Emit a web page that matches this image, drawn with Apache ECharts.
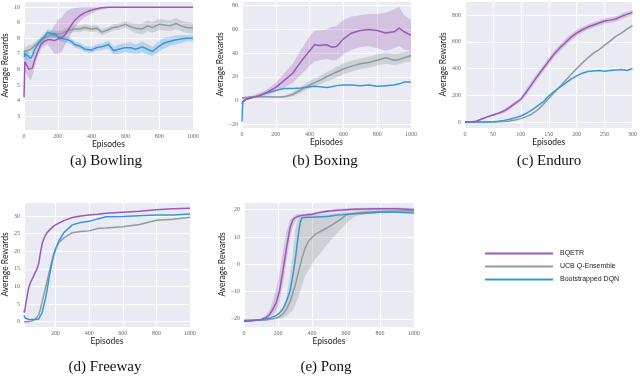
<!DOCTYPE html>
<html>
<head>
<meta charset="utf-8">
<script src="https://cdn.jsdelivr.net/npm/echarts@6/dist/echarts.min.js"></script>
<style>
  html, body { margin: 0; padding: 0; background: #fff; }
  #main { width: 640px; height: 378px; }
</style>
</head>
<body>
<div id="main"></div>
<script>
// ---- (a) Bowling ----
var bowlingEp = [0, 5, 10, 20, 30, 40, 50, 60, 80, 100, 120, 140, 160, 180, 200, 220, 240, 260, 280, 300, 330, 360, 400, 430, 460, 500, 530, 560, 600, 630, 660, 700, 730, 760, 800, 830, 860, 900, 930, 960, 1000];
var bowlingBQETR = [4.2, 6.5, 6.4, 6.2, 6.0, 5.9, 6.1, 6.5, 7.1, 7.6, 7.8, 7.9, 7.9, 7.85, 7.95, 8.0, 8.2, 8.5, 8.85, 9.15, 9.45, 9.65, 9.82, 9.9, 9.96, 10, 10, 10, 10, 10, 10, 10, 10, 10, 10, 10, 10, 10, 10, 10, 10];
var bowlingBQETRLo = [3.4, 5.9, 5.8, 5.6, 5.4, 5.3, 5.6, 6.0, 6.8, 7.3, 7.5, 7.6, 7.3, 7.0, 7.0, 7.1, 7.5, 7.9, 8.3, 8.7, 9.1, 9.35, 9.6, 9.75, 9.85, 9.95, 9.98, 9.98, 9.98, 9.98, 9.98, 9.98, 9.98, 9.98, 9.98, 9.98, 9.98, 9.98, 9.98, 9.98, 9.98];
var bowlingBQETRHi = [5.0, 7.2, 7.0, 6.9, 6.6, 6.5, 6.6, 7.0, 7.4, 7.9, 8.1, 8.3, 8.5, 8.8, 9.2, 9.3, 9.6, 9.8, 9.9, 9.95, 10, 10.02, 10.02, 10.02, 10.02, 10.02, 10.02, 10.02, 10.02, 10.02, 10.02, 10.02, 10.02, 10.02, 10.02, 10.02, 10.02, 10.02, 10.02, 10.02, 10.02];
var bowlingUCB = [7.0, 7.2, 7.1, 7.2, 7.3, 7.3, 7.4, 7.5, 7.7, 7.8, 8.0, 8.1, 8.2, 8.2, 8.3, 8.3, 8.4, 8.5, 8.55, 8.6, 8.6, 8.7, 8.6, 8.65, 8.4, 8.55, 8.7, 8.75, 8.9, 8.75, 8.65, 8.6, 8.8, 8.7, 8.9, 8.85, 8.8, 8.95, 8.8, 8.7, 8.65];
var bowlingUCBLo = [5.5, 6.8, 6.8, 6.9, 7.0, 7.05, 7.15, 7.3, 7.5, 7.6, 7.8, 7.9, 8.0, 8.0, 8.1, 8.1, 8.2, 8.3, 8.35, 8.4, 8.4, 8.5, 8.4, 8.45, 8.2, 8.35, 8.5, 8.55, 8.7, 8.5, 8.35, 8.25, 8.45, 8.35, 8.55, 8.5, 8.45, 8.6, 8.45, 8.35, 8.3];
var bowlingUCBHi = [8.6, 7.6, 7.4, 7.5, 7.6, 7.55, 7.65, 7.7, 7.9, 8.0, 8.2, 8.3, 8.4, 8.4, 8.5, 8.5, 8.6, 8.7, 8.75, 8.8, 8.8, 8.9, 8.8, 8.85, 8.6, 8.75, 8.9, 8.95, 9.1, 9.0, 8.95, 8.95, 9.15, 9.05, 9.25, 9.2, 9.15, 9.3, 9.15, 9.05, 9.0];
var bowlingBDQN = [6.8, 7.0, 6.9, 6.9, 6.8, 6.7, 6.9, 7.2, 7.6, 7.9, 8.1, 8.4, 8.3, 8.3, 8.1, 8.0, 7.95, 7.9, 7.8, 7.6, 7.5, 7.3, 7.25, 7.4, 7.45, 7.6, 7.2, 7.3, 7.4, 7.4, 7.3, 7.45, 7.3, 7.15, 7.5, 7.7, 7.8, 7.9, 7.95, 8.0, 8.0];
var bowlingBDQNLo = [6.4, 6.7, 6.6, 6.6, 6.55, 6.45, 6.65, 6.95, 7.4, 7.7, 7.9, 8.2, 8.1, 8.1, 7.9, 7.8, 7.75, 7.7, 7.6, 7.4, 7.3, 7.1, 7.05, 7.2, 7.25, 7.35, 6.95, 7.0, 7.1, 7.05, 7.0, 7.1, 6.95, 6.85, 7.15, 7.35, 7.5, 7.6, 7.7, 7.8, 7.8];
var bowlingBDQNHi = [7.2, 7.3, 7.2, 7.2, 7.05, 6.95, 7.15, 7.45, 7.8, 8.1, 8.3, 8.6, 8.5, 8.5, 8.3, 8.2, 8.15, 8.1, 8.0, 7.8, 7.7, 7.5, 7.45, 7.6, 7.65, 7.85, 7.45, 7.6, 7.7, 7.75, 7.6, 7.8, 7.65, 7.45, 7.85, 8.05, 8.1, 8.2, 8.2, 8.2, 8.2];

// ---- (b) Boxing ----
var boxingEp = [0, 2, 5, 10, 25, 50, 75, 100, 150, 200, 250, 300, 350, 400, 430, 460, 500, 530, 560, 600, 650, 700, 750, 800, 850, 900, 930, 960, 1000];
var boxingBQETR = [-3, -2, -1, 0, 1, 2, 3, 4, 7, 11, 17, 23, 33, 42, 47, 46.5, 47, 45, 45.5, 52, 57, 59, 60, 59, 57, 58, 61, 58, 55];
var boxingBQETRLo = [-5, -4, -3, -2, 0, 1, 2, 2.5, 4.5, 7, 11, 15, 22, 29, 33, 34, 35, 34, 34, 39, 43, 45, 46, 44, 42, 44, 46, 43, 42];
var boxingBQETRHi = [-1, 0, 1, 2, 2.5, 3.5, 4.5, 6, 9.5, 15, 23, 31, 43, 54, 59, 59, 60, 62, 63, 68, 71, 72, 73, 73, 74, 77, 79, 72, 68];
var boxingUCB = [2, 1.5, 1.5, 2, 2.5, 3, 3, 3, 3, 2.8, 3, 5, 9, 13, 15, 17, 20, 22, 24, 26.5, 29, 31, 32, 34, 36, 34, 34.5, 36, 38];
var boxingUCBLo = [1, 0.8, 0.8, 1.2, 1.8, 2.3, 2.3, 2.3, 2.3, 2, 2, 3.5, 6.5, 10, 12, 13.5, 16, 17.5, 19.5, 22, 24.5, 26.5, 27.5, 29.5, 31, 30, 30.5, 32, 33];
var boxingUCBHi = [3, 2.3, 2.3, 2.8, 3.2, 3.7, 3.7, 3.7, 3.7, 3.6, 4, 7, 12, 16.5, 18.5, 20.5, 24, 26, 28.5, 31.5, 33.5, 35.5, 37, 39, 40.5, 39.5, 40, 41, 42];
var boxingBDQN = [-18, -8, -1, 0.5, 1, 2, 3, 4, 6.5, 8.5, 10, 10, 10.5, 11.5, 12, 11.5, 11, 11.5, 12.5, 13, 13, 12.5, 13, 12, 12.5, 13, 14, 15.5, 15.5];

// ---- (c) Enduro ----
var enduroEp = [0, 10, 20, 30, 40, 50, 60, 70, 80, 90, 100, 110, 120, 130, 140, 150, 160, 170, 180, 190, 200, 210, 220, 230, 240, 250, 260, 270, 280, 290, 300];
var enduroBQETR = [0, 0, 5, 22, 38, 52, 65, 82, 110, 140, 170, 225, 285, 345, 400, 455, 510, 555, 595, 635, 665, 690, 710, 725, 740, 755, 762, 770, 790, 805, 820];
var enduroBQETRLo = [-4, -4, 0, 14, 30, 44, 57, 67, 95, 125, 155, 200, 260, 320, 375, 430, 485, 530, 570, 610, 642, 670, 690, 705, 720, 735, 742, 750, 770, 785, 800];
var enduroBQETRHi = [4, 4, 10, 30, 46, 60, 73, 97, 125, 155, 185, 250, 310, 370, 425, 480, 535, 580, 620, 660, 688, 710, 730, 745, 760, 775, 782, 790, 810, 825, 840];
var enduroUCB = [0, 0, 0, 0, 0, 0, 1, 3, 8, 15, 25, 40, 60, 90, 130, 175, 220, 265, 310, 355, 400, 440, 480, 515, 540, 575, 605, 640, 665, 695, 720];
var enduroBDQN = [0, 0, 0, 0, 0, 2, 5, 12, 20, 32, 45, 65, 90, 120, 150, 195, 230, 260, 290, 320, 345, 365, 378, 382, 385, 380, 385, 388, 392, 385, 400];

// ---- (d) Freeway ----
var freewayEp = [12, 15, 20, 30, 40, 50, 60, 70, 80, 90, 100, 110, 120, 130, 140, 150, 160, 170, 180, 190, 200, 220, 250, 300, 350, 400, 450, 500, 600, 700, 800, 900, 1000];
var freewayBQETR = [3.2, 2.6, 4, 7, 9.5, 11, 12, 13, 14, 15, 16.5, 19.5, 22, 23.5, 24.5, 25.3, 25.8, 26.3, 26.8, 27.2, 27.5, 28, 28.7, 29.6, 30, 30.3, 30.5, 30.8, 31.1, 31.4, 31.8, 32.1, 32.2];
var freewayUCB = [0, 0, 0, 0, 0, 0.1, 0.2, 0.4, 0.8, 1.3, 2, 3.5, 5.5, 7.5, 9.5, 11.5, 13.5, 15.5, 17.5, 19.3, 20.7, 22.5, 23.8, 25.3, 25.6, 25.8, 26.5, 26.6, 27, 27.6, 28.8, 29.1, 29.7];
var freewayBDQN = [1.8, 1.3, 1.0, 0.8, 0.7, 0.7, 0.6, 0.6, 0.6, 0.6, 0.8, 1.2, 2.5, 4.5, 6.5, 9, 12, 14.5, 17, 19, 20.5, 23, 25.3, 27.5, 28.2, 28.5, 29.2, 29.8, 29.9, 30.1, 30.3, 30.3, 30.6];

// ---- (e) Pong ----
var pongEp = [0, 50, 100, 130, 150, 170, 190, 210, 230, 250, 270, 285, 300, 310, 320, 330, 340, 360, 380, 400, 420, 450, 480, 500, 520, 550, 580, 600, 650, 700, 800, 900, 1000];
var pongBQETR = [-21, -20.7, -20.3, -19.5, -18.5, -16.5, -14, -9.5, -2, 6, 13, 16, 17, 17.5, 17.6, 17.8, 17.9, 18, 18.2, 18.3, 18.6, 19, 19.3, 19.5, 19.6, 19.8, 19.9, 20, 20.1, 20.2, 20.3, 20.3, 20];
var pongBQETRLo = [-21.3, -21, -20.7, -20.2, -19.5, -18.5, -17, -13.5, -7, 1, 9, 13.5, 15.5, 16.5, 17, 17.3, 17.4, 17.5, 17.7, 17.8, 18.1, 18.5, 18.8, 19, 19.1, 19.3, 19.4, 19.5, 19.6, 19.7, 19.8, 19.8, 19.5];
var pongBQETRHi = [-20.7, -20.4, -19.9, -18.6, -17, -13.5, -9, -3, 5, 12, 16, 17.3, 17.8, 18.2, 18.3, 18.3, 18.4, 18.5, 18.7, 18.8, 19.1, 19.5, 19.8, 20, 20.1, 20.3, 20.4, 20.5, 20.6, 20.7, 20.8, 20.8, 20.5];
var pongUCB = [-20.5, -20.5, -20.5, -20.4, -20.2, -20, -19.7, -19.2, -18.2, -16.5, -13.8, -11, -8, -5.5, -3, -0.5, 2, 6, 8.5, 9.8, 11, 12, 13, 13.8, 14.5, 15.7, 17, 18, 18.7, 19, 19.3, 19.5, 19.5];
var pongUCBLo = [-20.8, -20.8, -20.8, -20.7, -20.5, -20.3, -20.1, -20, -19.7, -19, -18, -17, -15, -13.5, -12, -10, -8, -4, -2, 0, 2, 4, 6.5, 8, 9.5, 11.5, 13.5, 15, 17.5, 18.3, 18.7, 18.9, 18.9];
var pongUCBHi = [-20.2, -20.2, -20.2, -20.1, -19.9, -19.7, -19.3, -18.3, -16, -12, -4, 3, 12, 15, 17, 17.3, 17.5, 17.8, 18, 18, 18.1, 18.2, 18.4, 18.5, 18.6, 18.8, 19, 19, 19.3, 19.5, 19.8, 20, 20];
var pongBDQN = [-20.7, -20.5, -20.3, -20, -19.8, -19.3, -18.8, -17.8, -16.2, -13.5, -10, -5, 1, 6, 11, 15, 17, 17.1, 17.2, 17.2, 17.3, 17.4, 17.5, 17.6, 17.8, 18, 18.1, 18.3, 18.5, 18.6, 19, 19, 18.8];

var seriesNames = ['BQETR', 'UCB Q-Ensemble', 'Bootstrapped DQN'];
var colors = { 'BQETR': '#9b59b6', 'UCB Q-Ensemble': '#8f9c9d', 'Bootstrapped DQN': '#3498db' };
var bandColors = { 'BQETR': 'rgba(155,89,182,0.28)', 'UCB Q-Ensemble': 'rgba(130,140,140,0.28)', 'Bootstrapped DQN': 'rgba(52,152,219,0.28)' };

function zip(xs, ys) {
  return xs.map(function (x, i) { return [x, ys[i]]; });
}

function tickFmt(step) {
  return function (v) {
    var r = v / step;
    if (Math.abs(r - Math.round(r)) > 1e-6) return '';
    return String(Math.round(v)).replace('-', '\u2212');
  };
}

function line(idx, name, xs, ys) {
  return {
    type: 'line', name: name, xAxisIndex: idx, yAxisIndex: idx,
    data: zip(xs, ys), symbol: 'none', showSymbol: false, z: 3,
    lineStyle: { color: colors[name], width: 1.5 },
    itemStyle: { color: colors[name] }
  };
}

// shaded band between lo and hi, drawn as one polygon through the axes
function band(idx, name, xs, lo, hi) {
  return {
    type: 'custom', name: name + ' band', xAxisIndex: idx, yAxisIndex: idx,
    silent: true, z: 1,
    data: xs.map(function (x, i) { return [x, lo[i], hi[i]]; }),
    encode: { x: 0, y: [1, 2] },
    renderItem: function (params, api) {
      if (params.dataIndexInside !== 0) return null;
      var n = params.dataInsideLength;
      var upper = [], lower = [];
      for (var i = 0; i < n; i++) {
        upper.push(api.coord([api.value(0, i), api.value(2, i)]));
        lower.push(api.coord([api.value(0, i), api.value(1, i)]));
      }
      var pts = upper.concat(lower.reverse());
      return {
        type: 'polygon',
        shape: { points: echarts.graphic.clipPointsByRect(pts, params.coordSys) },
        style: { fill: bandColors[name] }
      };
    }
  };
}

var grids = [
  { left: 23, top: 1, width: 170, height: 129 },
  { left: 242, top: 1, width: 169, height: 127 },
  { left: 465, top: 1, width: 171, height: 127 },
  { left: 20, top: 202, width: 170, height: 125 },
  { left: 244, top: 202, width: 170, height: 125 }
];

var tickLabel = { fontFamily: 'Liberation Serif', fontSize: 6, color: '#666' };
var nameStyle = { fontFamily: 'Lato', fontSize: 8.5, color: '#222' };

function xAxis(idx, min, max, step) {
  return {
    type: 'value', gridIndex: idx, min: min, max: max, interval: (min % step === 0) ? step : undefined,
    splitNumber: 5,
    name: 'Episodes', nameLocation: 'middle', nameGap: 9, nameTextStyle: nameStyle,
    axisLine: { show: false }, axisTick: { show: false },
    axisLabel: Object.assign({ margin: 3, formatter: tickFmt(step) }, tickLabel),
    splitLine: { show: true, lineStyle: { color: '#fff', width: 1 } }
  };
}

function yAxis(idx, min, max, split, step, gap) {
  return {
    type: 'value', gridIndex: idx, min: min, max: max, splitNumber: split,
    name: 'Average Rewards', nameLocation: 'middle', nameGap: gap, nameTextStyle: nameStyle,
    axisLine: { show: false }, axisTick: { show: false },
    axisLabel: Object.assign({ margin: 4, formatter: tickFmt(step) }, tickLabel),
    splitLine: { show: true, lineStyle: { color: '#fff', width: 1 } }
  };
}

var series = [
  band(0, 'BQETR', bowlingEp, bowlingBQETRLo, bowlingBQETRHi),
  band(0, 'UCB Q-Ensemble', bowlingEp, bowlingUCBLo, bowlingUCBHi),
  band(0, 'Bootstrapped DQN', bowlingEp, bowlingBDQNLo, bowlingBDQNHi),
  line(0, 'UCB Q-Ensemble', bowlingEp, bowlingUCB),
  line(0, 'Bootstrapped DQN', bowlingEp, bowlingBDQN),
  line(0, 'BQETR', bowlingEp, bowlingBQETR),

  band(1, 'BQETR', boxingEp, boxingBQETRLo, boxingBQETRHi),
  band(1, 'UCB Q-Ensemble', boxingEp, boxingUCBLo, boxingUCBHi),
  line(1, 'UCB Q-Ensemble', boxingEp, boxingUCB),
  line(1, 'Bootstrapped DQN', boxingEp, boxingBDQN),
  line(1, 'BQETR', boxingEp, boxingBQETR),

  band(2, 'BQETR', enduroEp, enduroBQETRLo, enduroBQETRHi),
  line(2, 'UCB Q-Ensemble', enduroEp, enduroUCB),
  line(2, 'Bootstrapped DQN', enduroEp, enduroBDQN),
  line(2, 'BQETR', enduroEp, enduroBQETR),

  line(3, 'UCB Q-Ensemble', freewayEp, freewayUCB),
  line(3, 'Bootstrapped DQN', freewayEp, freewayBDQN),
  line(3, 'BQETR', freewayEp, freewayBQETR),

  band(4, 'BQETR', pongEp, pongBQETRLo, pongBQETRHi),
  band(4, 'UCB Q-Ensemble', pongEp, pongUCBLo, pongUCBHi),
  line(4, 'UCB Q-Ensemble', pongEp, pongUCB),
  line(4, 'Bootstrapped DQN', pongEp, pongBDQN),
  line(4, 'BQETR', pongEp, pongBQETR)
];

var captions = [
  { text: '(a) Bowling', x: 106, y: 161 },
  { text: '(b) Boxing', x: 325, y: 161 },
  { text: '(c) Enduro', x: 549, y: 161 },
  { text: '(d) Freeway', x: 105, y: 367 },
  { text: '(e) Pong', x: 326, y: 367 }
];

var option = {
  animation: false,
  backgroundColor: '#fff',
  grid: grids.map(function (g) {
    return Object.assign({ show: true, backgroundColor: '#eaeaf2', borderWidth: 0 }, g);
  }),
  xAxis: [
    xAxis(0, 0, 1000, 200),
    xAxis(1, 0, 1000, 200),
    xAxis(2, 0, 300, 50),
    xAxis(3, 12, 1000, 200),
    xAxis(4, 0, 1000, 200)
  ],
  yAxis: [
    yAxis(0, 2.1, 10.4, 8, 1, 14),
    yAxis(1, -23.3, 84, 5, 20, 15),
    yAxis(2, -45, 905, 5, 200, 17),
    yAxis(3, -1.5, 34, 7, 5, 11),
    yAxis(4, -23, 22.8, 5, 10, 15)
  ],
  legend: {
    data: seriesNames,
    orient: 'vertical',
    left: 480, top: 245,
    icon: 'rect',
    itemWidth: 68, itemHeight: 2, itemGap: 6,
    textStyle: { fontFamily: 'Liberation Sans', fontSize: 7, color: '#222', padding: [0, 0, 0, 2] },
    selectedMode: false
  },
  graphic: captions.map(function (c) {
    return {
      type: 'text', x: c.x, y: c.y, silent: true,
      style: { text: c.text, font: '15px "Liberation Serif"', fill: '#111', textAlign: 'center', textVerticalAlign: 'middle' }
    };
  }),
  series: series
};

var chart = echarts.init(document.getElementById('main'));
chart.setOption(option);
</script>
</body>
</html>
